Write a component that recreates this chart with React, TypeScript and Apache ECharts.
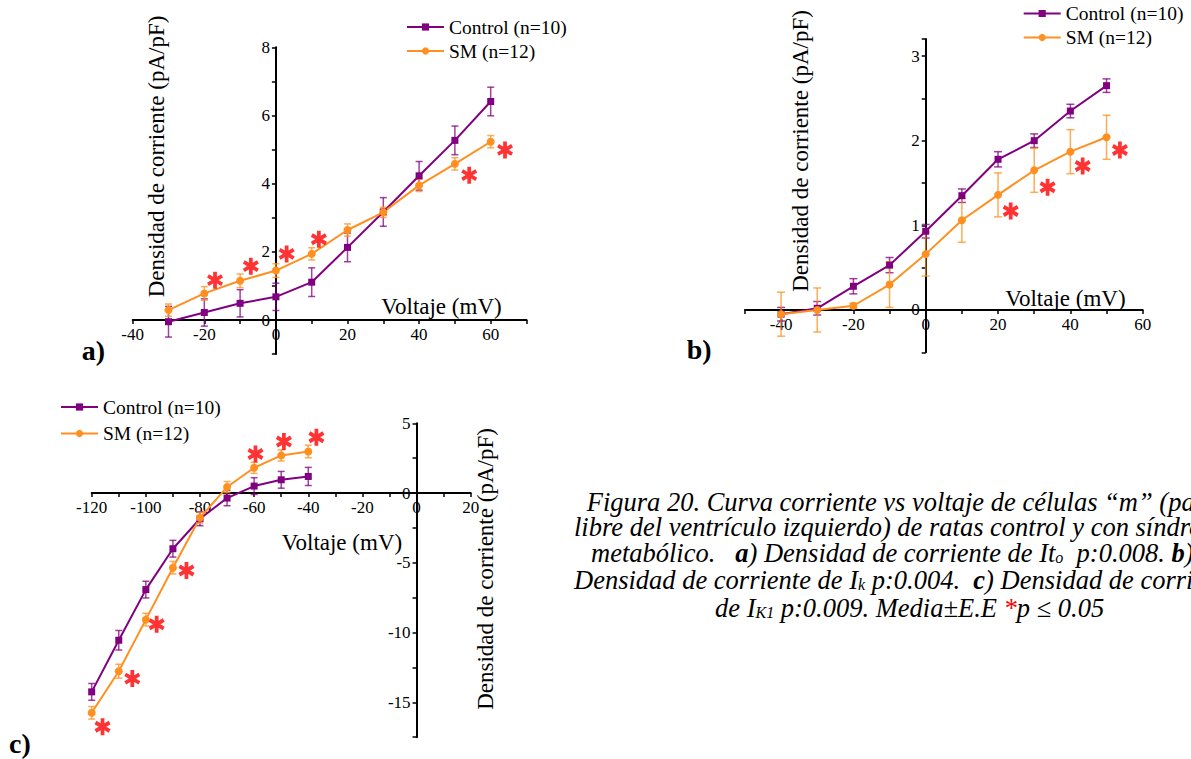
import React, { useEffect, useRef } from 'react';
import * as echarts from 'echarts';

const FONT = 'Liberation Serif';
const PURPLE = '#800080';
const ORANGE = '#FF9020';
const RED = '#FF0000';
const CTRL = 'Control (n=10)';
const SM = 'SM (n=12)';

// Panel a (Ito)
const voltA = [-30, -20, -10, 0, 10, 20, 30, 40, 50, 60];
const ctrlA = [-0.05, 0.22, 0.49, 0.68, 1.11, 2.13, 3.17, 4.23, 5.27, 6.41];
const ctrlAErr = [0.45, 0.4, 0.4, 0.4, 0.42, 0.42, 0.42, 0.42, 0.42, 0.42];
const smA = [0.29, 0.78, 1.15, 1.45, 1.94, 2.64, 3.16, 3.95, 4.58, 5.23];
const smAErr = [0.18, 0.2, 0.2, 0.2, 0.18, 0.18, 0.15, 0.18, 0.18, 0.18];
const starAX = [-17, -7, 3, 12, 54, 64];
const starAY = [1.17, 1.58, 1.94, 2.37, 4.25, 4.99];

// Panel b (Ik)
const voltB = [-40, -30, -20, -10, 0, 10, 20, 30, 40, 50];
const ctrlB = [-0.05, 0.02, 0.28, 0.53, 0.93, 1.35, 1.78, 2.0, 2.35, 2.65];
const ctrlBErr = [0.08, 0.08, 0.09, 0.09, 0.08, 0.08, 0.09, 0.08, 0.08, 0.08];
const smB = [-0.05, 0.0, 0.05, 0.3, 0.66, 1.06, 1.36, 1.65, 1.87, 2.04];
const smBErr = [0.26, 0.26, 0.03, 0.27, 0.26, 0.26, 0.26, 0.26, 0.26, 0.26];
const starBX = [23.5, 33.7, 43.4, 53.7];
const starBY = [1.17, 1.45, 1.7, 1.89];

// Panel c (Ik1)
const voltC = [-120, -110, -100, -90, -80, -70, -60, -50, -40];
const ctrlC = [-14.25, -10.55, -6.92, -3.99, -1.84, -0.36, 0.5, 0.95, 1.19];
const ctrlCErr = [0.6, 0.7, 0.6, 0.6, 0.5, 0.55, 0.6, 0.6, 0.65];
const smC = [-15.75, -12.77, -9.07, -5.35, -1.77, 0.43, 1.81, 2.7, 2.98];
const smCErr = [0.45, 0.5, 0.45, 0.45, 0.4, 0.4, 0.4, 0.4, 0.45];
const starCX = [-116, -105, -96, -85, -59.5, -49, -37];
const starCY = [-16.75, -13.3, -9.4, -5.55, 2.8, 3.7, 4.0];

// Axis ranges per panel
const xRangeA = [-40, 70];
const yRangeA = [-1, 8];
const xRangeB = [-50, 60];
const yRangeB = [-0.5, 3.2];
const xRangeC = [-120, 20];
const yRangeC = [-17.5, 5];

// Caption lines
const captionLines = [
  'Figura 20. Curva corriente vs voltaje de células “m” (pared',
  'libre del ventrículo izquierdo) de ratas control y con síndrome',
  'metabólico.   {b|a}) Densidad de corriente de It{s|o}  p:0.008. {b|b})',
  'Densidad de corriente de I{s|k} p:0.004.  {b|c}) Densidad de corriente',
  'de I{s|K1} p:0.009. Media±E.E {r|*}p ≤ 0.05',
];

const GRIDS = [
  { left: 132.7, top: 47.3, width: 393.8, height: 306.8 },
  { left: 744.9, top: 39.1, width: 397.8, height: 313.2 },
  { left: 91.7, top: 423.3, width: 379, height: 313.9 },
];

const STAR_PATH =
  'path://M2.3,-10L2.3,10L-2.3,10L-2.3,-10Z' +
  'M-7.51,-7.0L9.81,3.0L7.51,7.0L-9.81,-3.0Z' +
  'M9.81,-3.0L-7.51,7.0L-9.81,3.0L7.51,-7.0Z';

function axisBase(
  dim: 'x' | 'y',
  gridIndex: number,
  range: number[],
  other: number[],
  interval: number,
  fmt: (v: number) => string
) {
  const g = GRIDS[gridIndex];
  const frac = (0 - other[0]) / (other[1] - other[0]);
  const offset = dim === 'x' ? -frac * g.height : -frac * g.width;
  return {
    type: 'value',
    gridIndex,
    position: dim === 'x' ? 'bottom' : 'left',
    offset,
    min: range[0],
    max: range[1],
    interval,
    axisLine: { show: true, onZero: false, lineStyle: { color: '#000', width: 2 } },
    axisTick: { show: true, inside: false, length: 4, lineStyle: { color: '#000', width: 1.5 } },
    axisLabel: { formatter: fmt, color: '#000', fontFamily: FONT, fontSize: 17, margin: 6 },
    splitLine: { show: false },
  };
}

function errSeries(i: number, xs: number[], ys: number[], es: number[], color: string, hw: number) {
  return {
    type: 'custom',
    xAxisIndex: i,
    yAxisIndex: i,
    z: 2,
    silent: true,
    encode: { x: 0, y: [1, 2] },
    data: xs.map((x, k) => [x, ys[k] - es[k], ys[k] + es[k]]),
    renderItem: (params: any, api: any) => {
      const x = api.value(0);
      const p1 = api.coord([x, api.value(2)]);
      const p2 = api.coord([x, api.value(1)]);
      const st = { stroke: color, lineWidth: 1.5, opacity: 0.75 };
      return {
        type: 'group',
        children: [
          { type: 'line', shape: { x1: p1[0], y1: p1[1], x2: p2[0], y2: p2[1] }, style: st },
          { type: 'line', shape: { x1: p1[0] - hw, y1: p1[1], x2: p1[0] + hw, y2: p1[1] }, style: st },
          { type: 'line', shape: { x1: p2[0] - hw, y1: p2[1], x2: p2[0] + hw, y2: p2[1] }, style: st },
        ],
      };
    },
  };
}

function lineSeries(i: number, name: string, xs: number[], ys: number[], color: string, symbol: string, size: number) {
  return {
    type: 'line',
    name,
    xAxisIndex: i,
    yAxisIndex: i,
    z: 3,
    data: xs.map((x, k) => [x, ys[k]]),
    symbol,
    symbolSize: size,
    showAllSymbol: true,
    lineStyle: { color, width: 2 },
    itemStyle: { color },
  };
}

function starSeries(i: number, xs: number[], ys: number[]) {
  return {
    type: 'scatter',
    name: 'p<0.05',
    xAxisIndex: i,
    yAxisIndex: i,
    z: 4,
    silent: true,
    symbol: STAR_PATH,
    symbolSize: [16, 17],
    itemStyle: { color: RED },
    data: xs.map((x, k) => [x, ys[k]]),
  };
}

function legendItem(name: string, left: number, top: number) {
  return {
    data: [name],
    left,
    top,
    orient: 'vertical',
    padding: 0,
    itemWidth: 37,
    itemHeight: 9,
    selectedMode: false,
    textStyle: { fontFamily: FONT, fontSize: 19.5, color: '#000' },
  };
}

function txt(text: string, x: number, y: number, size: number, opts: any = {}) {
  return {
    type: 'text',
    x,
    y,
    rotation: opts.rotation || 0,
    style: {
      text,
      fontFamily: FONT,
      fontSize: size,
      fontWeight: opts.weight || 'normal',
      fill: '#000',
      textAlign: opts.align || 'center',
      align: opts.align || 'center',
      textVerticalAlign: 'middle',
      verticalAlign: 'middle',
    },
  };
}

const CAP_SIZE = 26.5;

function caption(text: string, x: number, y: number) {
  return {
    type: 'text',
    x,
    y,
    style: {
      text,
      fontFamily: FONT,
      fontStyle: 'italic',
      fontSize: CAP_SIZE,
      lineHeight: 25,
      fill: '#000',
      textAlign: 'left',
      align: 'left',
      textVerticalAlign: 'middle',
      verticalAlign: 'middle',
      rich: {
        b: { fontFamily: FONT, fontStyle: 'italic', fontWeight: 'bold', fontSize: CAP_SIZE, lineHeight: 25, fill: '#000', color: '#000' },
        s: { fontFamily: FONT, fontStyle: 'italic', fontSize: 16, lineHeight: 25, fill: '#000', color: '#000', verticalAlign: 'bottom', padding: [9, 0, 0, 0] },
        r: { fontFamily: FONT, fontStyle: 'italic', fontSize: CAP_SIZE, lineHeight: 25, fill: RED, color: RED },
      },
    },
  };
}

export default function App() {
  const ref = useRef<HTMLDivElement>(null);
  useEffect(() => {
    if (!ref.current) return;
    const chart = echarts.init(ref.current, undefined, { renderer: 'svg' });
    const every20 = (v: number) => (Math.abs(v % 20) < 1e-9 ? String(v) : '');
    const capX = [586.7, 574, 591, 574, 715];
    const capY = [502, 527, 553, 580, 608];
    const option: any = {
      animation: false,
      backgroundColor: '#fff',
      textStyle: { fontFamily: FONT },
      grid: GRIDS.map((g) => ({ ...g, containLabel: false })),
      xAxis: [
        axisBase('x', 0, xRangeA, yRangeA, 10, (v) => (v <= 60 ? every20(v) : '')),
        axisBase('x', 1, xRangeB, yRangeB, 10, every20),
        axisBase('x', 2, xRangeC, yRangeC, 10, every20),
      ],
      yAxis: [
        axisBase('y', 0, yRangeA, xRangeA, 1, (v) => (v >= 0 && Math.abs(v % 2) < 1e-9 ? String(v) : '')),
        axisBase('y', 1, yRangeB, xRangeB, 0.5, (v) => (v >= 0 && Math.abs(v - Math.round(v)) < 1e-9 ? String(Math.round(v)) : '')),
        axisBase('y', 2, yRangeC, xRangeC, 2.5, (v) => (Math.abs(v % 5) < 1e-9 ? String(v) : '')),
      ],
      legend: [
        legendItem(CTRL, 406, 17),
        legendItem(SM, 406, 41),
        legendItem(CTRL, 1022.7, 3.5),
        legendItem(SM, 1022.7, 27.5),
        legendItem(CTRL, 60, 397),
        legendItem(SM, 60, 423.5),
      ],
      series: [
        errSeries(0, voltA, ctrlA, ctrlAErr, PURPLE, 3.5),
        errSeries(0, voltA, smA, smAErr, ORANGE, 3.5),
        lineSeries(0, CTRL, voltA, ctrlA, PURPLE, 'rect', 7),
        lineSeries(0, SM, voltA, smA, ORANGE, 'circle', 8),
        starSeries(0, starAX, starAY),

        errSeries(1, voltB, ctrlB, ctrlBErr, PURPLE, 4),
        errSeries(1, voltB, smB, smBErr, ORANGE, 4),
        lineSeries(1, CTRL, voltB, ctrlB, PURPLE, 'rect', 7),
        lineSeries(1, SM, voltB, smB, ORANGE, 'circle', 8),
        starSeries(1, starBX, starBY),

        errSeries(2, voltC, ctrlC, ctrlCErr, PURPLE, 3.5),
        errSeries(2, voltC, smC, smCErr, ORANGE, 3.5),
        lineSeries(2, CTRL, voltC, ctrlC, PURPLE, 'rect', 7),
        lineSeries(2, SM, voltC, smC, ORANGE, 'circle', 8),
        starSeries(2, starCX, starCY),
      ],
      graphic: [
        txt('Densidad de corriente (pA/pF)', 156, 156.5, 23, { rotation: Math.PI / 2 }),
        txt('Voltaje (mV)', 441.5, 306, 23),
        txt('a)', 81.7, 350, 28, { weight: 'bold', align: 'left' }),

        txt('Densidad de corriente (pA/pF)', 800, 151, 23, { rotation: Math.PI / 2 }),
        txt('Voltaje (mV)', 1065.4, 298, 23),
        txt('b)', 686.7, 349, 28, { weight: 'bold', align: 'left' }),

        txt('Densidad de corriente (pA/pF)', 485, 569, 23, { rotation: Math.PI / 2 }),
        txt('Voltaje (mV)', 342, 542, 23),
        txt('c)', 9, 743, 28, { weight: 'bold', align: 'left' }),

        ...captionLines.map((t, k) => caption(t, capX[k], capY[k])),
      ],
    };
    chart.setOption(option);
    return () => chart.dispose();
  }, []);
  return <div ref={ref} style={{ position: 'absolute', left: 0, top: 0, width: 1191, height: 759 }} />;
}
